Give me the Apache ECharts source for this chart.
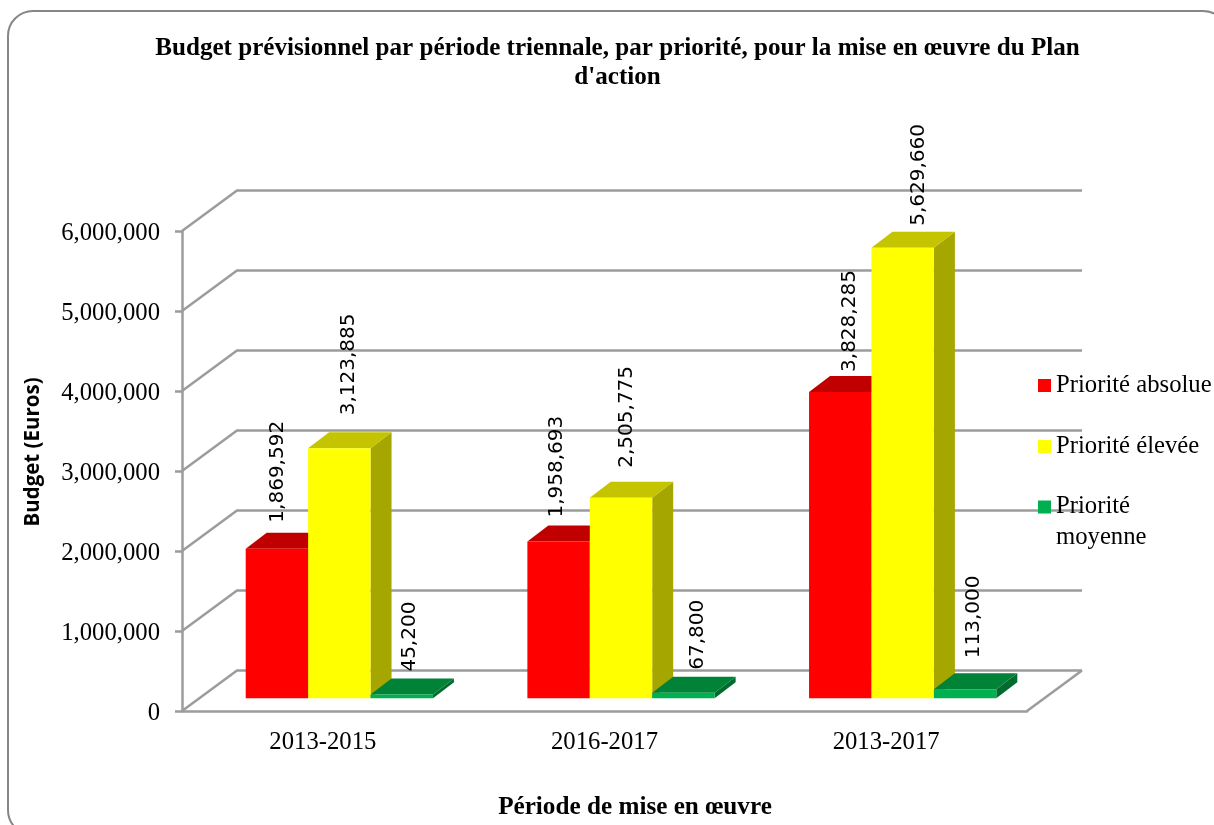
<!DOCTYPE html>
<html>
<head>
<meta charset="utf-8">
<style>html,body{margin:0;padding:0;background:#fff}#main{width:1214px;height:825px}</style>
<script src="https://cdn.jsdelivr.net/npm/echarts@6/dist/echarts.min.js"></script>
</head>
<body>
<div id="main"></div>
<script>
var categories = ['2013-2015', '2016-2017', '2013-2017'];
var absolue = [1869592, 1958693, 3828285];
var elevee = [3123885, 2505775, 5629660];
var moyenne = [45200, 67800, 113000];
var yTicks = [0, 1000000, 2000000, 3000000, 4000000, 5000000, 6000000];

// the fake 3d: how far the back wall and the bar tops sit from the front plane, in px
var WALL_DX = 55, WALL_DY = -40.5;
var BAR_DX = 16.5, BAR_DY = -12.8;
var TOP_DX = 21, TOP_DY = -16;

var serif = '"Liberation Serif", serif';
var labelFont = '20px "DejaVu Sans", sans-serif';
var gridGrey = '#9c9c9c';

// label placement was done by hand in the original, [dx, gap above bar top] per category
var labelNudge = [
  [[1, 10], [-2, 8], [10, 4]],
  [[9, 17], [6, 14], [16, 6]],
  [[8, 7], [14, 7], [9, 15]]
];

function poly(points, fill) {
  return { type: 'polygon', shape: { points: points }, style: { fill: fill }, silent: true };
}

function barRenderer(slot, front, top, side) {
  return function (params, api) {
    var cat = api.value(0), val = api.value(1);
    var w = api.size([1, 0])[0] * 0.2216;
    var cx = api.coord([cat, 0])[0] + BAR_DX;
    var x0 = cx + (slot - 1.5) * w, x1 = x0 + w;
    var y0 = api.coord([cat, 0])[1] + BAR_DY;
    var y1 = api.coord([cat, val])[1] + BAR_DY;
    var n = labelNudge[slot][cat];
    return {
      type: 'group',
      children: [
        poly([[x1, y0], [x1 + TOP_DX, y0 + TOP_DY], [x1 + TOP_DX, y1 + TOP_DY], [x1, y1]], side),
        poly([[x0, y1], [x0 + TOP_DX, y1 + TOP_DY], [x1 + TOP_DX, y1 + TOP_DY], [x1, y1]], top),
        poly([[x0, y0], [x1, y0], [x1, y1], [x0, y1]], front),
        {
          type: 'text',
          x: (x0 + x1) / 2 + n[0],
          y: y1 + TOP_DY - n[1],
          rotation: Math.PI / 2,
          style: { text: val.toLocaleString('en-US'), font: labelFont, fill: '#000', align: 'left', verticalAlign: 'middle' },
          silent: true
        }
      ]
    };
  };
}

function wallRenderer(params, api) {
  var c = params.coordSys;
  var val = api.value(0);
  var y = api.coord([0, val])[1];
  var left = c.x, right = c.x + c.width;
  var children = [{
    type: 'polyline',
    shape: { points: [[left, y], [left + WALL_DX, y + WALL_DY], [right + WALL_DX, y + WALL_DY]] },
    style: { stroke: gridGrey, lineWidth: 2.5, fill: null },
    silent: true
  }];
  if (val === 0) {
    children.push({
      type: 'line',
      shape: { x1: right, y1: y, x2: right + WALL_DX, y2: y + WALL_DY },
      style: { stroke: gridGrey, lineWidth: 2.5 },
      silent: true
    });
  }
  return { type: 'group', children: children };
}

function barSeries(name, values, slot, front, top, side) {
  return {
    name: name,
    type: 'custom',
    renderItem: barRenderer(slot, front, top, side),
    itemStyle: { color: front },
    encode: { x: 0, y: 1 },
    data: values.map(function (v, i) { return [i, v]; }),
    clip: false,
    z: 3
  };
}

var legendBase = {
  orient: 'vertical',
  left: 1033,
  itemWidth: 13,
  itemHeight: 13,
  icon: 'rect',
  textStyle: { fontFamily: serif, fontSize: 24.7, color: '#000', lineHeight: 31 }
};

var chart = echarts.init(document.getElementById('main'), null, { renderer: 'canvas' });
chart.setOption({
  animation: false,
  backgroundColor: '#fff',
  graphic: [{
    type: 'rect',
    shape: { x: 8, y: 11, width: 1220, height: 824, r: 25 },
    style: { fill: null, stroke: '#868686', lineWidth: 2 },
    silent: true,
    z: -1
  }],
  title: {
    text: "Budget prévisionnel par période triennale, par priorité, pour la mise en œuvre du Plan\nd'action",
    left: 612.5,
    top: 29,
    textAlign: 'center',
    textStyle: { fontFamily: serif, fontWeight: 'bold', fontSize: 25.1, lineHeight: 29, color: '#000' }
  },
  legend: [
    Object.assign({}, legendBase, { top: 365, itemGap: 30, data: ['Priorité absolue', 'Priorité élevée'] }),
    // blank first line so the swatch lines up with "Priorité", not the middle of the block
    Object.assign({}, legendBase, {
      top: 455.5,
      data: ['Priorité moyenne'],
      formatter: function () { return ' \nPriorité\nmoyenne'; }
    })
  ],
  grid: { left: 182, top: 231, width: 845, height: 481 },
  xAxis: {
    type: 'category',
    data: categories,
    name: 'Période de mise en œuvre',
    nameLocation: 'middle',
    nameGap: 84,
    nameTextStyle: { fontFamily: serif, fontWeight: 'bold', fontSize: 25.2, color: '#000', padding: [0, 0, 0, 61] },
    axisLine: { lineStyle: { color: gridGrey, width: 2.5 } },
    axisTick: { length: 7, lineStyle: { color: gridGrey, width: 2.5 } },
    axisLabel: { fontFamily: serif, fontSize: 24.7, color: '#000', margin: 19 }
  },
  yAxis: {
    type: 'value',
    min: 0,
    max: 6000000,
    interval: 1000000,
    name: 'Budget (Euros)',
    nameLocation: 'middle',
    nameGap: 138,
    nameTextStyle: { fontFamily: '"Open Sans", sans-serif', fontWeight: 'bold', fontSize: 20.5, color: '#000', padding: [0, 0, 0, 38] },
    axisLine: { show: true, lineStyle: { color: gridGrey, width: 2.5 } },
    axisTick: { show: true, length: 7, lineStyle: { color: gridGrey, width: 2.5 } },
    splitLine: { show: false },
    axisLabel: {
      color: '#000', margin: 22,
      formatter: function (v) { return '{t|' + v.toLocaleString('en-US') + '}'; },
      rich: { t: { fontFamily: serif, fontSize: 24.7, color: '#000', padding: [5, 0, 0, 0] } }
    }
  },
  series: [
    {
      type: 'custom',
      renderItem: wallRenderer,
      encode: { y: 0 },
      data: yTicks.map(function (v) { return [v]; }),
      clip: false,
      z: 1
    },
    barSeries('Priorité absolue', absolue, 0, '#ff0000', '#c00000', '#a60000'),
    barSeries('Priorité élevée', elevee, 1, '#ffff00', '#c4c400', '#a6a600'),
    barSeries('Priorité moyenne', moyenne, 2, '#00b050', '#008237', '#006b2e')
  ]
});
</script>
</body>
</html>
